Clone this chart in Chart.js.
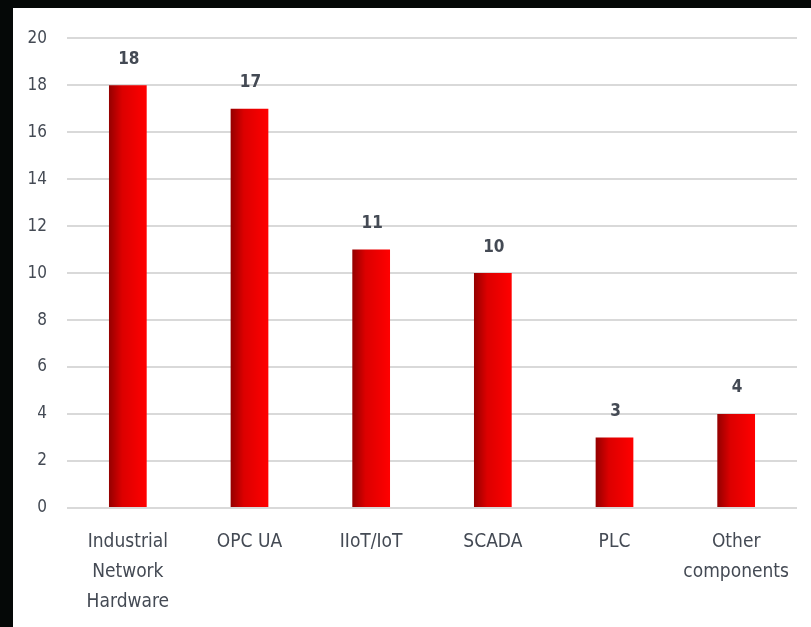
<!DOCTYPE html>
<html>
<head>
<meta charset="utf-8">
<script src="https://cdn.jsdelivr.net/npm/chart.js@4/dist/chart.umd.min.js"></script>
<style>
  html, body { margin: 0; padding: 0; background: #050807; }
  #box { position: absolute; left: 13px; top: 8px; width: 798px; height: 619px; background: #ffffff; }
</style>
</head>
<body>
<div id="box"><canvas id="chart" width="798" height="619"></canvas></div>
<script>
// chart data
const categories = [['Industrial', 'Network', 'Hardware'], 'OPC UA', 'IIoT/IoT', 'SCADA', 'PLC', ['Other', 'components']];
const counts = [18, 17, 11, 10, 3, 4];
const yTicks = [0, 2, 4, 6, 8, 10, 12, 14, 16, 18, 20];

const FONT = '"DejaVu Sans Condensed", "Liberation Sans Narrow", sans-serif';
const TEXT = '#444a54';

// {{{ bar gradient
function barFill(ctx)
{
  let chart = ctx.chart;
  let x = chart.scales.x;
  if (!x || ctx.dataIndex === undefined) return '#e00000';
  let cx = x.getPixelForValue(ctx.dataIndex);
  let w = (x.width / categories.length) * 0.31;
  if (!isFinite(cx) || !isFinite(w) || w <= 0) return '#e00000';
  let g = chart.ctx.createLinearGradient(cx - w / 2, 0, cx + w / 2, 0);
  g.addColorStop(0, '#940000');
  g.addColorStop(0.35, '#dc0000');
  g.addColorStop(1, '#ff0000');
  return g;
}
// }}}

// {{{ value labels
const valueLabels = {
  id: 'valueLabels',
  afterDatasetsDraw(chart)
  {
    let c = chart.ctx;
    let meta = chart.getDatasetMeta(0);
    c.save();
    c.font = 'bold 17px ' + FONT;
    c.fillStyle = TEXT;
    c.textAlign = 'center';
    c.textBaseline = 'middle';
    meta.data.forEach((bar, i) =>
    {
      c.fillText(String(counts[i]), bar.x + 1, bar.y - 26);
    });
    c.restore();
  }
};
// }}}

new Chart(document.getElementById('chart'), {
  type: 'bar',
  data: {
    labels: categories,
    datasets: [{
      data: counts,
      backgroundColor: barFill,
      borderWidth: 0,
      barPercentage: 0.31,
      categoryPercentage: 1
    }]
  },
  options: {
    responsive: false,
    animation: false,
    layout: { padding: { top: 30, right: 14, left: 0, bottom: 0 } },
    plugins: { legend: { display: false }, tooltip: { enabled: false } },
    scales: {
      x: {
        grid: { display: false },
        border: { display: false },
        ticks: {
          color: TEXT,
          padding: 11,
          maxRotation: 0,
          autoSkip: false,
          font: { family: FONT, size: 19, lineHeight: 1.58 }
        },
        afterFit: (s) => { s.height = 119; }
      },
      y: {
        min: 0,
        max: 20,
        afterBuildTicks: (s) => { s.ticks = yTicks.map(v => ({ value: v })); },
        grid: { color: '#d9d9d9', lineWidth: 2, drawTicks: false },
        border: { display: false },
        ticks: {
          color: TEXT,
          padding: 20,
          font: { family: FONT, size: 17 }
        },
        afterFit: (s) => { s.width = 54; }
      }
    }
  },
  plugins: [valueLabels]
});
</script>
</body>
</html>
